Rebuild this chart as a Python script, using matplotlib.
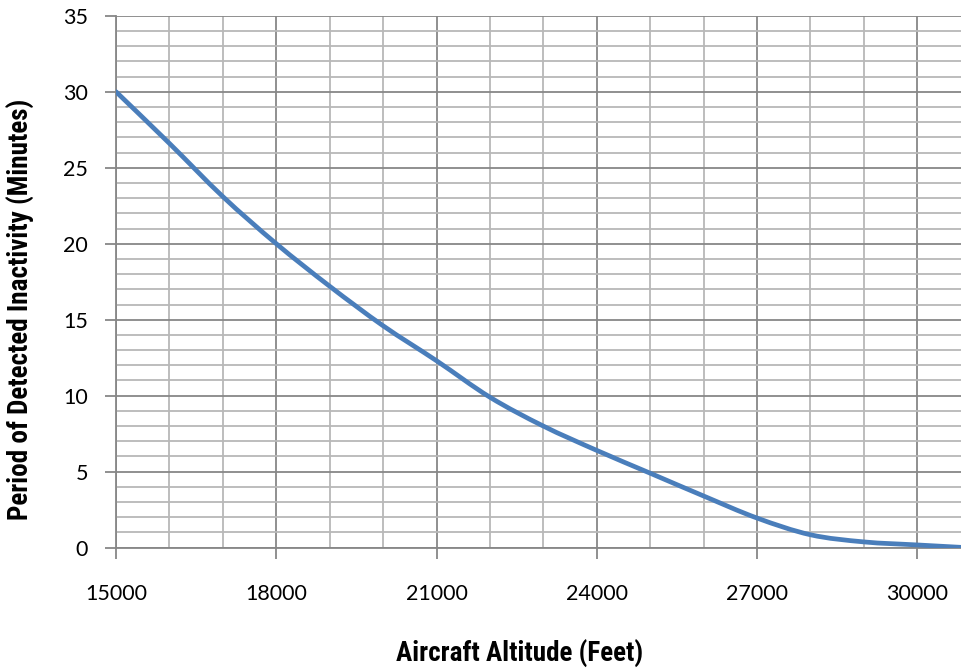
import numpy as np
import matplotlib
matplotlib.use("Agg")
import matplotlib.pyplot as plt
from matplotlib.path import Path
from matplotlib.patches import PathPatch

plt.rcParams['font.family'] = ['Lato', 'DejaVu Sans']

# Values
altitude_ft = [15000, 16000, 17000, 18000, 19000, 20000, 21000, 22000, 23000,
               24000, 25000, 26000, 27000, 28000, 29000, 30000, 30830]
inactivity_min = [30.0, 26.6, 23.1, 20.0, 17.2, 14.6, 12.3, 9.9, 8.0,
                  6.4, 4.9, 3.4, 1.95, 0.85, 0.38, 0.18, 0.02]
x_ticks = [15000, 18000, 21000, 24000, 27000, 30000]
y_ticks = [0, 5, 10, 15, 20, 25, 30, 35]

fig = plt.figure(figsize=(9.61, 6.72), dpi=100)
ax = fig.add_axes([0.1207, 0.185, 0.88, 0.7916])

# Excel-style smoothed line: cubic Bezier through the points (Catmull-Rom tangents)
x = np.array(altitude_ft, dtype=float)
y = np.array(inactivity_min, dtype=float)
verts = [(x[0], y[0])]
codes = [Path.MOVETO]
for i in range(len(x) - 1):
    x0, y0 = (x[i - 1], y[i - 1]) if i > 0 else (x[i], y[i])
    x3, y3 = (x[i + 2], y[i + 2]) if i + 2 < len(x) else (x[i + 1], y[i + 1])
    c1 = (x[i] + (x[i + 1] - x0) / 6, y[i] + (y[i + 1] - y0) / 6)
    c2 = (x[i + 1] - (x3 - x[i]) / 6, y[i + 1] - (y3 - y[i]) / 6)
    verts += [c1, c2, (x[i + 1], y[i + 1])]
    codes += [Path.CURVE4] * 3
ax.add_patch(PathPatch(Path(verts, codes), facecolor="none", edgecolor="#4a7ebb",
                       lw=3.4, capstyle="round", zorder=3))

ax.set_xlim(15000, 30830)
ax.set_ylim(0, 35)
ax.set_xticks(x_ticks)
ax.set_yticks(y_ticks)
ax.set_xticks(np.arange(15000, 31000, 1000), minor=True)
ax.set_yticks(np.arange(0, 36, 1), minor=True)

ax.grid(which="minor", color="#b8b8b8", lw=1.3, zorder=1)
ax.grid(which="major", color="#878787", lw=1.3, zorder=2)
ax.set_axisbelow(True)

for side in ["top", "right"]:
    ax.spines[side].set_visible(False)
for side in ["left", "bottom"]:
    ax.spines[side].set_color("#878787")
    ax.spines[side].set_linewidth(1.3)

ax.tick_params(which="major", direction="out", length=8, width=1.3, color="#878787",
               labelsize=15.5)
ax.tick_params(axis="x", pad=18)
ax.tick_params(axis="y", pad=12)
ax.tick_params(which="minor", length=0)

label_font = dict(family=["Liberation Sans Narrow", "DejaVu Sans Condensed", "Roboto Condensed",
                          "DejaVu Sans"], fontweight="bold", fontsize=19.5)
fig.text(0.541, 0.027, "Aircraft Altitude (Feet)", ha="center", va="center", **label_font)
fig.text(0.022, 0.54, "Period of Detected Inactivity (Minutes)", ha="center", va="center",
         rotation=90, **label_font)

fig.savefig("out.png", dpi=100)
